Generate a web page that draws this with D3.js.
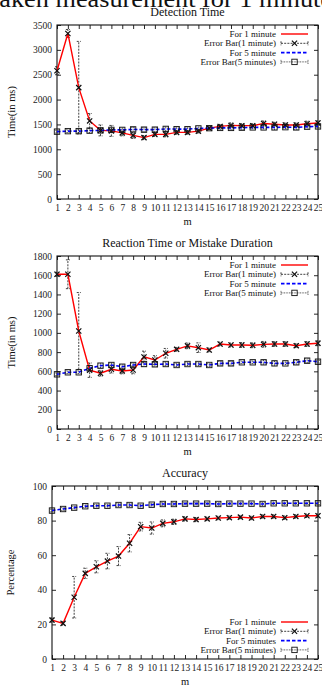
<!DOCTYPE html>
<html>
<head>
<meta charset="utf-8">
<script src="https://cdn.jsdelivr.net/npm/d3@7"></script>
<style>
  body { margin: 0; background: #fff; }
  svg { display: block; }
</style>
</head>
<body>
<svg id="chart" width="322" height="685"></svg>
<script>
// x categories (m)
const mCategories = [1, 2, 3, 4, 5, 6, 7, 8, 9, 10, 11, 12, 13, 14, 15, 16, 17, 18, 19, 20, 21, 22, 23, 24, 25];

// Detection time (ms)
const detect1 = [2580, 3330, 2240, 1570, 1380, 1370, 1330, 1280, 1235, 1300, 1300, 1340, 1340, 1365, 1425, 1460, 1480, 1475, 1475, 1520, 1505, 1490, 1490, 1515, 1530];
const detect1Err = [80, 80, 930, 150, 110, 110, 60, 60, 40, 40, 50, 40, 40, 40, 30, 40, 50, 40, 40, 50, 40, 40, 40, 50, 40];
const detect5 = [1355, 1365, 1365, 1375, 1380, 1390, 1390, 1400, 1395, 1395, 1410, 1405, 1405, 1420, 1425, 1430, 1430, 1435, 1440, 1440, 1440, 1445, 1440, 1455, 1460];
const detect5Err = [30, 30, 30, 40, 40, 40, 40, 40, 40, 40, 40, 30, 30, 30, 30, 40, 40, 40, 30, 30, 40, 30, 40, 30, 30];
const detectTicks = [0, 500, 1000, 1500, 2000, 2500, 3000, 3500];

// Reaction time or mistake duration (ms)
const react1 = [1610, 1610, 1020, 612, 580, 622, 604, 614, 750, 718, 788, 829, 865, 846, 822, 884, 874, 874, 871, 881, 884, 884, 867, 884, 892];
const react1Err = [20, 150, 400, 75, 30, 40, 30, 40, 60, 45, 50, 20, 30, 50, 20, 20, 20, 25, 25, 30, 25, 25, 20, 25, 25];
const react5 = [569, 590, 590, 632, 659, 666, 648, 666, 676, 673, 676, 666, 676, 676, 666, 683, 683, 694, 694, 694, 683, 683, 694, 711, 700];
const react5Err = [15, 15, 15, 25, 20, 20, 20, 20, 25, 20, 20, 15, 15, 15, 15, 20, 20, 15, 15, 20, 20, 15, 20, 20, 15];
const reactTicks = [0, 200, 400, 600, 800, 1000, 1200, 1400, 1600, 1800];

// Accuracy (%)
const acc1 = [22.5, 20.6, 35.7, 49.5, 53.3, 56.6, 59.5, 66.9, 76.5, 75.7, 78.4, 79.3, 81, 80.6, 81, 81.5, 81.7, 82, 81.5, 82.4, 82.4, 81.7, 82.4, 82.8, 82.8];
const acc1Err = [1.2, 1, 12, 3, 3.5, 4.5, 5.5, 5, 2.5, 3.5, 2, 1.5, 1.2, 1.2, 1, 1, 1, 1, 1, 1, 1, 1, 1, 1, 1];
const acc5 = [85.8, 86.7, 87.5, 88.3, 88.6, 88.6, 89, 89, 88.6, 89.2, 89.6, 89.6, 89.8, 89.8, 89.8, 89.6, 89.8, 89.8, 89.8, 89.6, 90, 90, 90, 90, 90];
const acc5Err = [0.8, 0.8, 0.8, 0.8, 0.8, 0.8, 0.8, 0.8, 0.8, 0.8, 0.8, 0.8, 0.8, 0.8, 0.8, 0.8, 0.8, 0.8, 0.8, 0.8, 0.8, 0.8, 0.8, 0.8, 0.8];
const accTicks = [0, 20, 40, 60, 80, 100];

const FONT = '"Liberation Serif", "DejaVu Serif", serif';
const RED = '#ff0000';
const BLUE = '#0000ff';
const INK = '#111';

const svg = d3.select('#chart');

// page heading, clipped at the top edge
svg.append('text')
  .attr('x', -8)
  .attr('y', 7)
  .attr('font-family', FONT)
  .attr('font-size', 24)
  .attr('textLength', 340)
  .attr('lengthAdjust', 'spacingAndGlyphs')
  .attr('fill', INK)
  .text('taken measurement for 1 minute');

function crossMark(g, cx, cy) {
  const s = 2.6;
  g.append('path')
    .attr('d', `M${cx - s},${cy - s}L${cx + s},${cy + s}M${cx - s},${cy + s}L${cx + s},${cy - s}`)
    .attr('stroke', INK).attr('stroke-width', 1.2).attr('fill', 'none');
}

function squareMark(g, cx, cy) {
  const s = 2.7;
  g.append('rect')
    .attr('x', cx - s).attr('y', cy - s).attr('width', 2 * s).attr('height', 2 * s)
    .attr('fill', 'none').attr('stroke', INK).attr('stroke-width', 0.9);
}

function errorBars(g, x, y, vals, errs, dash) {
  vals.forEach((v, i) => {
    const cx = x(mCategories[i]);
    const y1 = y(v - errs[i]);
    const y2 = y(v + errs[i]);
    const path = `M${cx},${y1}L${cx},${y2}M${cx - 2},${y1}L${cx + 2},${y1}M${cx - 2},${y2}L${cx + 2},${y2}`;
    g.append('path').attr('d', path)
      .attr('stroke', INK).attr('stroke-width', 0.8).attr('stroke-dasharray', dash).attr('fill', 'none');
  });
}

function drawPanel(p) {
  const x = d3.scaleLinear().domain([1, 25]).range([p.left, p.right]);
  const y = d3.scaleLinear().domain([0, p.yMax]).range([p.bottom, p.top]);
  const g = svg.append('g');

  const styleAxis = (sel) => {
    sel.select('.domain').remove();
    sel.attr('font-family', FONT).attr('font-size', 9.5);
    sel.selectAll('line').attr('stroke', INK).attr('stroke-width', 0.9);
    sel.selectAll('text').attr('fill', '#222');
  };

  g.append('g').attr('transform', `translate(0,${p.bottom})`)
    .call(d3.axisBottom(x).tickValues(mCategories).tickSizeInner(-4).tickSizeOuter(0).tickPadding(5.5).tickFormat(d3.format('d')))
    .call(styleAxis);
  g.append('g').attr('transform', `translate(0,${p.top})`)
    .call(d3.axisTop(x).tickValues(mCategories).tickSizeInner(-4).tickSizeOuter(0).tickFormat(() => ''))
    .call(styleAxis);
  g.append('g').attr('transform', `translate(${p.left},0)`)
    .call(d3.axisLeft(y).tickValues(p.ticks).tickSizeInner(-4).tickSizeOuter(0).tickPadding(5).tickFormat(d3.format('d')))
    .call(styleAxis);
  g.append('g').attr('transform', `translate(${p.right},0)`)
    .call(d3.axisRight(y).tickValues(p.ticks).tickSizeInner(-4).tickSizeOuter(0).tickFormat(() => ''))
    .call(styleAxis);

  g.append('rect')
    .attr('x', p.left).attr('y', p.top)
    .attr('width', p.right - p.left).attr('height', p.bottom - p.top)
    .attr('fill', 'none').attr('stroke', INK).attr('stroke-width', 1.1);

  const cx = (p.left + p.right) / 2;
  g.append('text').attr('x', cx).attr('y', p.top - 9)
    .attr('text-anchor', 'middle').attr('font-family', FONT).attr('font-size', 12).attr('fill', INK)
    .text(p.title);
  g.append('text').attr('x', cx).attr('y', p.bottom + 26)
    .attr('text-anchor', 'middle').attr('font-family', FONT).attr('font-size', 10.5).attr('fill', INK)
    .text('m');
  g.append('text')
    .attr('transform', `translate(${p.yLabelX},${(p.top + p.bottom) / 2}) rotate(-90)`)
    .attr('text-anchor', 'middle').attr('font-family', FONT).attr('font-size', 10.5).attr('fill', INK)
    .text(p.yLabel);

  // error bars
  errorBars(g, x, y, p.s1, p.e1, '2,1.2');
  errorBars(g, x, y, p.s5, p.e5, '0.8,0.8');

  const line = d3.line().x((d, i) => x(mCategories[i])).y((d) => y(d));
  g.append('path').datum(p.s1).attr('d', line)
    .attr('fill', 'none').attr('stroke', RED).attr('stroke-width', 1.4);
  g.append('path').datum(p.s5).attr('d', line)
    .attr('fill', 'none').attr('stroke', BLUE).attr('stroke-width', 1.6).attr('stroke-dasharray', '3.5,2');

  p.s1.forEach((v, i) => crossMark(g, x(mCategories[i]), y(v)));
  p.s5.forEach((v, i) => squareMark(g, x(mCategories[i]), y(v)));

  // legend
  const lx = p.legend.x;
  p.legend.labels.forEach((label, i) => {
    const ly = p.legend.y + i * 9.3;
    g.append('text').attr('x', lx).attr('y', ly + 3)
      .attr('text-anchor', 'end').attr('font-family', FONT).attr('font-size', 9).attr('fill', INK)
      .text(label);
    const x1 = lx + 5, x2 = lx + 32, xm = (x1 + x2) / 2;
    if (i === 0) {
      g.append('line').attr('x1', x1).attr('x2', x2).attr('y1', ly).attr('y2', ly)
        .attr('stroke', RED).attr('stroke-width', 1.4);
    } else if (i === 2) {
      g.append('line').attr('x1', x1).attr('x2', x2).attr('y1', ly).attr('y2', ly)
        .attr('stroke', BLUE).attr('stroke-width', 1.6).attr('stroke-dasharray', '3.5,2');
    } else {
      const dash = i === 1 ? '2,1.2' : '0.8,0.8';
      g.append('path')
        .attr('d', `M${x1},${ly}L${x2},${ly}M${x1},${ly - 2}L${x1},${ly + 2}M${x2},${ly - 2}L${x2},${ly + 2}`)
        .attr('stroke', INK).attr('stroke-width', 0.8).attr('stroke-dasharray', dash).attr('fill', 'none');
      if (i === 1) crossMark(g, xm, ly); else squareMark(g, xm, ly);
    }
  });
}

drawPanel({
  title: 'Detection Time', yLabel: 'Time(in ms)', yLabelX: 15,
  left: 57, right: 318, top: 25, bottom: 199, yMax: 3500, ticks: detectTicks,
  s1: detect1, e1: detect1Err, s5: detect5, e5: detect5Err,
  legend: { x: 276, y: 34, labels: ['For 1 minute', 'Error Bar(1 minute)', 'For 5 minute', 'Error Bar(5 minutes)'] },
});

drawPanel({
  title: 'Reaction Time or Mistake Duration', yLabel: 'Time(in ms)', yLabelX: 15,
  left: 57, right: 318, top: 256, bottom: 429, yMax: 1800, ticks: reactTicks,
  s1: react1, e1: react1Err, s5: react5, e5: react5Err,
  legend: { x: 276, y: 265, labels: ['For 1 minute', 'Error Bar(1 minute)', 'For 5 minute', 'Error Bar(5 minute)'] },
});

drawPanel({
  title: 'Accuracy', yLabel: 'Percentage', yLabelX: 14,
  left: 52, right: 318, top: 486, bottom: 659, yMax: 100, ticks: accTicks,
  s1: acc1, e1: acc1Err, s5: acc5, e5: acc5Err,
  legend: { x: 276, y: 622, labels: ['For 1 minute', 'Error Bar(1 minute)', 'For 5 minutes', 'Error Bar(5 minutes)'] },
});
</script>
</body>
</html>
